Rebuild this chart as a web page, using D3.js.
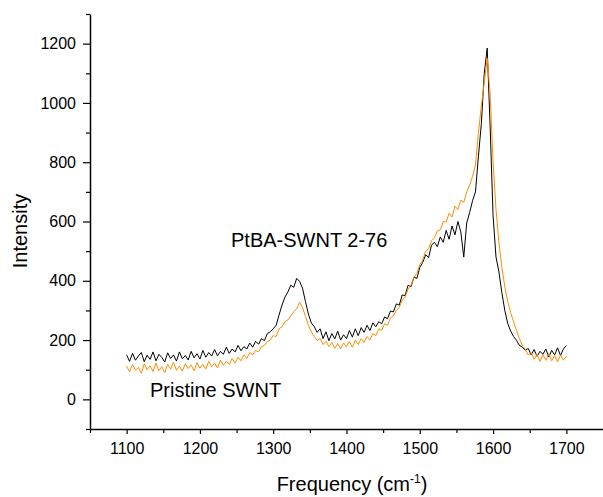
<!DOCTYPE html>
<html>
<head>
<meta charset="utf-8">
<script src="https://cdn.jsdelivr.net/npm/d3@7"></script>
<style>
  body { margin: 0; background: #fff; }
  svg { display: block; font-family: "Liberation Sans", Arial, sans-serif; }
</style>
</head>
<body>
<svg id="chart" width="603" height="497"></svg>
<script>
'use strict'

// frequency grid (cm-1), 4 cm-1 steps
const freqStart = 1100
const freqStep = 4

const ptbaValues = [
  150, 128, 155, 132, 146, 158, 127, 149, 135, 160,
  130, 152, 141, 126, 157, 138, 150, 129, 160, 137,
  148, 133, 162, 140, 154, 136, 165, 142, 158, 146,
  168, 147, 162, 152, 176, 155, 170, 160, 182, 164,
  178, 170, 190, 176, 196, 186, 205, 198, 222, 228,
  238, 250, 285, 318, 345, 362, 385, 378, 408, 398,
  375, 330, 288, 258, 245, 226, 238, 205, 228, 198,
  222, 204, 230, 200, 218, 205, 232, 210, 238, 215,
  242, 226, 250, 232, 258, 245, 262, 255, 278, 272,
  298, 295, 322, 318, 352, 350, 385, 380, 412, 408,
  445, 462, 488, 478, 520, 530, 515, 548, 530, 570,
  540, 585, 555, 600, 565, 480, 595, 630, 670, 700,
  820, 930, 1100, 1185, 920, 620, 480, 430, 360, 300,
  256, 230, 212, 199, 182, 176, 165, 172, 150, 168,
  145, 162, 152, 170, 143, 165, 150, 174, 148, 170,
  182
]

const pristineValues = [
  112, 92, 118, 98, 108, 88, 120, 100, 113, 94,
  122, 97, 110, 90, 118, 102, 125, 98, 112, 95,
  120, 104, 116, 96, 124, 105, 118, 102, 128, 110,
  122, 106, 132, 115, 128, 118, 138, 122, 142, 130,
  150, 138, 158, 150, 165, 160, 178, 182, 195, 200,
  215, 212, 238, 245, 262, 268, 282, 295, 305, 328,
  310, 280, 250, 228, 212, 198, 205, 185, 196, 178,
  192, 172, 188, 170, 190, 178, 195, 176, 200, 185,
  205, 192, 212, 200, 222, 215, 238, 232, 255, 250,
  275, 282, 300, 310, 335, 345, 372, 385, 412, 425,
  455, 470, 500, 508, 535, 545, 568, 572, 600, 598,
  628, 615, 652, 640, 672, 665, 700, 722, 752, 790,
  900, 990, 1070, 1150, 1030, 800, 640, 530, 445, 380,
  330, 292, 262, 232, 205, 182, 168, 150, 158, 135,
  152, 128, 150, 132, 155, 130, 148, 126, 150, 132,
  145
]

const xMajorTicks = [1100, 1200, 1300, 1400, 1500, 1600, 1700]
const xMinorTicks = [1050, 1150, 1250, 1350, 1450, 1550, 1650]
const yMajorTicks = [0, 200, 400, 600, 800, 1000, 1200]
const yMinorTicks = [-100, 100, 300, 500, 700, 900, 1100, 1300]

const svg = d3.select('#chart')

const x = d3.scaleLinear().domain([1050, 1750]).range([90, 603])
const y = d3.scaleLinear().domain([-100, 1300]).range([429, 14])

const toPoints = values => values.map((v, i) => [freqStart + i * freqStep, v])

// minor ticks first, so axis lines sit on top
svg.append('g')
  .attr('transform', 'translate(0,429)')
  .call(d3.axisBottom(x).tickValues(xMinorTicks).tickSize(4).tickFormat(''))
  .call(g => g.select('.domain').remove())

svg.append('g')
  .attr('transform', 'translate(90,0)')
  .call(d3.axisLeft(y).tickValues(yMinorTicks).tickSize(4).tickFormat(''))
  .call(g => g.select('.domain').remove())

svg.append('g')
  .attr('transform', 'translate(0,429)')
  .call(d3.axisBottom(x).tickValues(xMajorTicks).tickSize(5).tickSizeOuter(0)
    .tickPadding(9).tickFormat(d3.format('d')))

svg.append('g')
  .attr('transform', 'translate(90,0)')
  .call(d3.axisLeft(y).tickValues(yMajorTicks).tickSize(7).tickSizeOuter(0)
    .tickPadding(7).tickFormat(d3.format('d')))

svg.selectAll('.tick line').attr('stroke', '#000').attr('stroke-width', 1.2)
svg.selectAll('.domain').attr('stroke', '#000').attr('stroke-width', 1.5)
svg.selectAll('.tick text')
  .attr('fill', '#000')
  .style('font-size', '16px')
  .style('font-family', '"Liberation Sans", Arial, sans-serif')

const line = d3.line()
  .x(d => x(d[0]))
  .y(d => y(d[1]))

svg.append('path')
  .datum(toPoints(ptbaValues))
  .attr('fill', 'none')
  .attr('stroke', '#000')
  .attr('stroke-width', 1)
  .attr('d', line)

svg.append('path')
  .datum(toPoints(pristineValues))
  .attr('fill', 'none')
  .attr('stroke', '#ff8c00')
  .attr('stroke-width', 1)
  .attr('d', line)

// annotations and axis titles
svg.append('text')
  .attr('x', 231)
  .attr('y', 247)
  .style('font-size', '20px')
  .text('PtBA-SWNT 2-76')

svg.append('text')
  .attr('x', 150)
  .attr('y', 397)
  .style('font-size', '20px')
  .text('Pristine SWNT')

svg.append('text')
  .attr('transform', 'translate(27,231) rotate(-90)')
  .attr('text-anchor', 'middle')
  .style('font-size', '20px')
  .text('Intensity')

const xTitle = svg.append('text')
  .attr('x', 352)
  .attr('y', 491)
  .attr('text-anchor', 'middle')
  .style('font-size', '20px')
xTitle.append('tspan').text('Frequency (cm')
xTitle.append('tspan').attr('dy', -8).style('font-size', '12px').text('-1')
xTitle.append('tspan').attr('dy', 8).text(')')
</script>
</body>
</html>
